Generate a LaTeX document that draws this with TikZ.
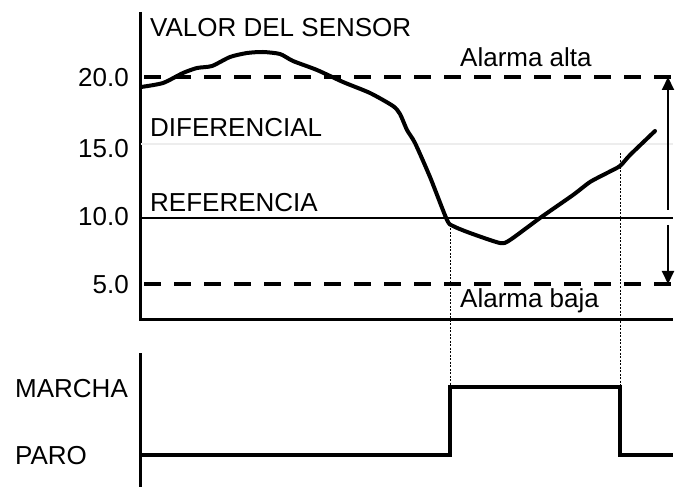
\documentclass[tikz,border=0pt]{standalone}
\usepackage{fontspec}
\setmainfont{Liberation Sans}
\usetikzlibrary{arrows.meta}

\begin{document}
\begin{tikzpicture}[x=1pt,y=-1pt,>={Triangle[length=13pt,width=12pt]},
  eje/.style={line width=3pt},
  alarma/.style={line width=4.5pt,dash pattern=on 17pt off 13pt},
  senal/.style={line width=4pt,line join=round,line cap=round},
  guia/.style={line width=1pt,dash pattern=on 2pt off 1.5pt},
  etiq/.style={inner sep=0pt,font=\fontsize{26}{31}\selectfont}]

\useasboundingbox (0,0) rectangle (683,489);

% ejes del valor del sensor
\coordinate (ejeA) at (140,12);
\coordinate (ejeO) at (140,319);
\coordinate (ejeF) at (673,319);
\draw[eje] (ejeA) -- (ejeO) -- (ejeF);

% niveles
\draw[black!7,line width=1.5pt] (141,144) -- (673,144);
\draw[line width=2pt] (141,218) -- (673,218);
\draw[alarma] (144,77) -- (673,77);
\draw[alarma] (144,284) -- (673,284);

% diferencial
\coordinate (difA) at (668,77);
\coordinate (difB) at (668,284);
\draw[line width=2pt,->] (668,210) -- (difA);
\draw[line width=2pt,->] (668,225) -- (difB);

% guias de conmutacion
\coordinate (conA) at (450,225);
\coordinate (conB) at (620,153);
\draw[guia] (conA) -- (450,387);
\draw[guia] (conB) -- (620,387);

% senal del sensor
\draw[senal] plot[smooth,tension=0.4] coordinates {(141,87) (163,83) (183,73)
  (197,68) (212,66) (230,57) (247,53) (263,52) (280,54) (293,61) (317,70)
  (343,82) (370,93) (393,106) (400,114) (407,130) (415,143) (430,177)
  (447,220) (453,226) (470,233) (500,243) (510,240) (540,218) (573,195)
  (590,182) (607,173) (620,166) (630,155) (655,131)};

% textos
\node[etiq,anchor=base west] (valor) at (150,37) {VALOR DEL SENSOR};
\node[etiq,anchor=base west] (dif) at (150,137) {DIFERENCIAL};
\node[etiq,anchor=base west] (ref) at (150,212) {REFERENCIA};
\node[etiq,anchor=base west] (alta) at (460,67) {Alarma alta};
\node[etiq,anchor=base west] (baja) at (460,307) {Alarma baja};

\node[etiq,anchor=east] (v20) at (129,78) {20.0};
\node[etiq,anchor=east] (v15) at (129,149) {15.0};
\node[etiq,anchor=east] (v10) at (129,217) {10.0};
\node[etiq,anchor=east] (v5) at (129,285) {5.0};

% estado de marcha
\draw[eje] (140,353) -- (140,487);
\draw[line width=4pt] (140,455) -- (450,455) -- (450,387) -- (620,387)
  -- (620,455) -- (673,455);

\node[etiq,anchor=base west] (marcha) at (15,397) {MARCHA};
\node[etiq,anchor=base west] (paro) at (15,464) {PARO};

\end{tikzpicture}
\end{document}
